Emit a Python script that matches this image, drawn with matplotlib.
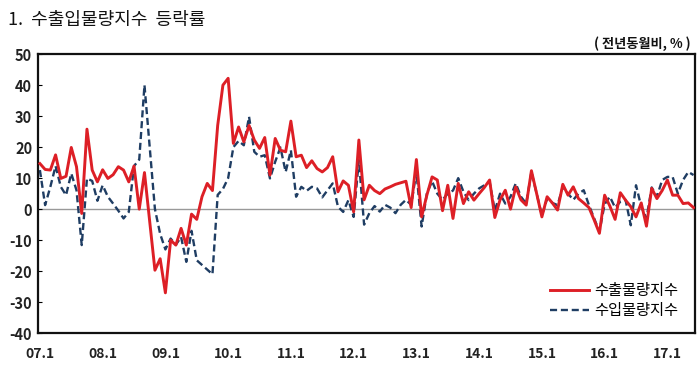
import matplotlib
matplotlib.use('Agg')
from matplotlib import pyplot as plt
import numpy as np

plt.rcParams['font.family'] = ['Noto Sans CJK KR', 'DejaVu Sans']
plt.rcParams['axes.unicode_minus'] = False

# Monthly YoY change (%), 2007.01 - 2017.06
export_volume = [
    14.7, 12.8, 12.6, 17.5, 9.9, 10.6, 19.9, 13.7, -1.4, 25.8,
    12.6, 8.8, 12.7, 9.9, 11.1, 13.7, 12.6, 8.8, 13.9, 0.0,
    11.8, -4.0, -19.7, -16.0, -27.0, -10.0, -11.6, -6.2, -11.6, -1.6,
    -3.3, 4.0, 8.3, 6.0, 27.0, 40.0, 42.2, 21.2, 26.5, 21.7,
    27.0, 22.3, 19.6, 23.1, 11.0, 22.8, 19.0, 18.5, 28.4, 16.9,
    17.4, 13.4, 15.6, 13.1, 12.0, 13.4, 16.9, 5.6, 9.1, 7.7,
    -0.9, 22.3, 3.0, 7.7, 6.0, 5.0, 6.5, 7.2, 8.0, 8.5,
    9.0, 0.5, 16.0, -2.5, 4.5, 10.4, 9.4, -0.5, 7.7, -3.0,
    8.3, 1.8, 5.6, 2.9, 5.0, 7.0, 9.4, -2.7, 3.0, 6.1,
    0.0, 7.2, 3.0, 1.3, 12.4, 5.0, -2.5, 4.0, 2.0, -0.3,
    8.0, 4.5, 7.2, 3.4, 2.0, 0.5, -3.5, -7.8, 4.5, 1.0,
    -3.3, 5.3, 2.9, 0.8, -2.5, 2.0, -5.5, 6.7, 3.4, 6.0,
    9.4, 4.5, 4.5, 1.8, 2.0, 0.5,
]
import_volume = [
    12.6, 1.3, 7.2, 13.9, 7.2, 4.5, 11.5, 6.1, -11.6, 9.9,
    9.1, 2.7, 7.7, 4.0, 1.8, -0.5, -3.0, -0.9, 13.9, 16.0,
    40.0, 20.0, 0.0, -8.0, -13.0, -9.5, -11.5, -9.0, -17.0, -7.0,
    -16.5, -18.0, -19.5, -21.0, 4.6, 6.5, 10.0, 20.0, 22.0, 20.6,
    29.8, 18.5, 16.9, 17.4, 9.9, 15.3, 19.9, 12.0, 19.0, 4.0,
    7.2, 5.9, 7.2, 6.7, 3.8, 6.1, 8.3, 0.8, -0.9, 2.9,
    -2.5, 15.8, -5.0, -1.3, 1.0, -0.8, 1.4, 0.5, -1.3, 1.4,
    3.0, 1.4, 12.0, -5.6, 5.0, 9.0, 5.0, 3.0, 5.0, 6.0,
    10.0, 5.6, 2.9, 5.0, 6.7, 7.7, 8.8, -0.5, 5.0, 1.8,
    4.0, 8.3, 4.0, 1.8, 12.0, 5.0, -2.0, 3.4, 2.0, 1.3,
    7.2, 5.0, 3.0, 5.0, 6.1, 1.3, -3.0, -7.3, 1.6, 4.0,
    0.5, 2.4, 3.0, -5.2, 7.7, 0.8, -3.0, 7.0, 4.0, 9.4,
    10.4, 10.4, 5.0, 9.4, 12.0, 11.0,
]
tick_labels = ['07.1', '08.1', '09.1', '10.1', '11.1', '12.1',
               '13.1', '14.1', '15.1', '16.1', '17.1']

months = np.arange(len(export_volume))

fig = plt.figure(figsize=(7, 3.76), dpi=100)
ax = fig.add_axes([0.054, 0.114, 0.939, 0.742])

ax.axhline(0, color='#999999', linewidth=1.0, zorder=1)
ax.plot(months, export_volume, color='#dd1f26', linewidth=2.1,
        label='수출물량지수', zorder=3)
ax.plot(months, import_volume, color='#1f3d63', linewidth=1.7,
        linestyle=(0, (3, 1.6)), label='수입물량지수', zorder=2)

ax.set_xlim(-0.4, 125.3)
ax.set_ylim(-40, 50)
ax.set_yticks(range(-40, 51, 10))
ax.set_xticks(range(0, 121, 12))
ax.set_xticklabels(tick_labels)
ax.tick_params(axis='x', length=0, pad=10, labelsize=10)
ax.tick_params(axis='y', length=3, direction='in', pad=4, labelsize=10.5)
for lbl in ax.get_xticklabels() + ax.get_yticklabels():
    lbl.set_fontweight('bold')
    lbl.set_color('#222222')

for side in ax.spines.values():
    side.set_linewidth(1.6)
    side.set_color('#111111')

ax.legend(loc='lower right', bbox_to_anchor=(0.995, 0.0), frameon=False,
          fontsize=11, handlelength=2.6, handletextpad=0.3, labelspacing=0.2)

fig.text(0.012, 0.948, '1.  수출입물량지수  등락률', fontsize=13,
         va='center', ha='left', color='#111111')
fig.text(0.986, 0.885, '( 전년동월비, % )', fontsize=9.5, fontweight='bold',
         va='center', ha='right', color='#111111')

fig.savefig('out.png', dpi=100)
